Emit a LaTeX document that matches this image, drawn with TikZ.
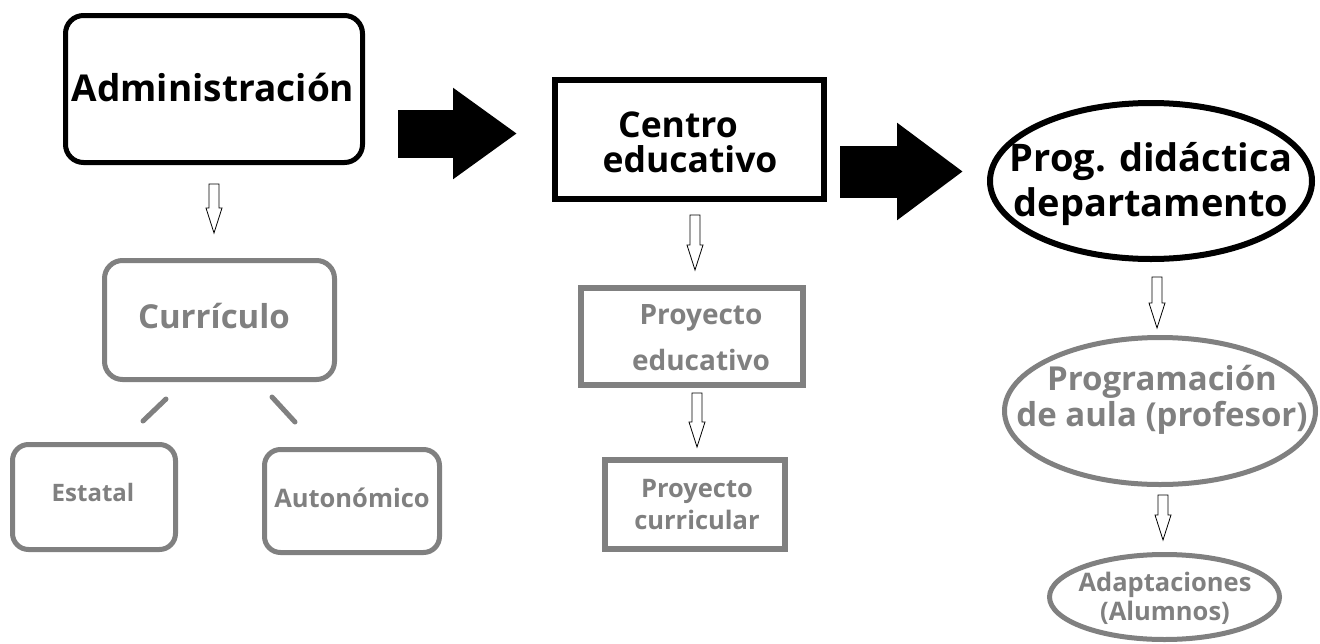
\documentclass[tikz,border=0pt]{standalone}
\usepackage{fontspec}
\setmainfont{Open Sans}
\usetikzlibrary{shapes.geometric,arrows.meta,calc}
\definecolor{gr}{HTML}{808080}
\tikzset{
  hollowdown/.pic={\draw[fill=white,line width=0.8pt,line join=miter]
     (-5,0) -- (5,0) -- (5,#1-25) -- (8,#1-25) -- (0,#1) -- (-8,#1-25) -- (-5,#1-25) -- cycle;},
  blkbox/.style={draw=black,text=black,align=center},
  grybox/.style={draw=gr,text=gr,align=center},
  blktxt/.style={text=black,align=center},
  grytxt/.style={text=gr,align=center},
}
\begin{document}
\begin{tikzpicture}[x=1pt,y=-1pt,every node/.style={inner sep=0pt,outer sep=0pt}]
\useasboundingbox[fill=white] (0,0) rectangle (1320,643);

% top row
\node[blkbox,rounded corners=18pt,line width=5pt,minimum width=297pt,minimum height=147pt] (admin) at (214,89) {};
\node[blktxt,font=\fontsize{37}{40}\selectfont\bfseries] (admint) at (213,88) {Administración};
\node[blkbox,line width=6pt,minimum width=269pt,minimum height=119pt] (centro) at (689.5,139.5) {};
\node[blktxt,font=\fontsize{35.5}{35}\selectfont\bfseries] (centrot) at (690,142) {Centro\hspace*{24pt}\\educativo};
\node[draw=black,ellipse,line width=6pt,minimum width=322pt,minimum height=156pt] (prog) at (1151,181) {};
\node[blktxt,font=\fontsize{38}{45}\selectfont\bfseries] (progt) at (1151,184) {Prog. didáctica\\departamento};

% black block arrows
\coordinate (ba1s) at (398,133.5);
\coordinate (ba1e) at (517,133.5);
\coordinate (ba2s) at (840,171.5);
\coordinate (ba2e) at (963,171.5);
\draw[line width=48pt,-{Triangle[width=87pt,length=64pt]}] (ba1s) -- (ba1e);
\draw[line width=52pt,-{Triangle[width=93pt,length=66pt]}] (ba2s) -- (ba2e);

% left column
\node[grybox,rounded corners=18pt,line width=5pt,minimum width=230pt,minimum height=119pt] (curr) at (219.5,320) {};
\node[grytxt,font=\fontsize{33}{36}\selectfont\bfseries] (currt) at (214,316) {Currículo};
\node[grybox,rounded corners=16pt,line width=5pt,minimum width=163pt,minimum height=105pt] (estatal) at (94,497) {};
\node[grytxt,font=\fontsize{24}{28}\selectfont\bfseries] (estatalt) at (93,492) {Estatal};
\node[grybox,rounded corners=16pt,line width=5pt,minimum width=175pt,minimum height=103pt] (auton) at (352,501) {};
\node[grytxt,font=\fontsize{25.5}{28}\selectfont\bfseries] (autont) at (352,498) {Autonómico};
\coordinate (l1a) at (166,399);
\coordinate (l1b) at (143,421);
\coordinate (l2a) at (272,397);
\coordinate (l2b) at (295,422);
\draw[gr,line width=5pt,line cap=round] (l1a) -- (l1b);
\draw[gr,line width=5pt,line cap=round] (l2a) -- (l2b);

% middle column
\node[grybox,line width=6pt,minimum width=222pt,minimum height=97pt] (pe) at (692,336.5) {};
\node[grytxt,font=\fontsize{28}{46}\selectfont\bfseries] (pet) at (701,338) {Proyecto\\educativo};
\node[grybox,line width=6pt,minimum width=180pt,minimum height=89pt] (pc) at (695,504.5) {};
\node[grytxt,font=\fontsize{25.5}{32}\selectfont\bfseries] (pct) at (697,505) {Proyecto\\curricular};

% right column
\node[draw=gr,ellipse,line width=5pt,minimum width=311pt,minimum height=147pt] (pa) at (1160,411) {};
\node[grytxt,font=\fontsize{33}{36}\selectfont\bfseries] (pat) at (1162,400) {Programación\\de aula (profesor)};
\node[draw=gr,ellipse,line width=5pt,minimum width=230pt,minimum height=85pt] (ad) at (1164.5,597) {};
\node[grytxt,font=\fontsize{25.5}{29}\selectfont\bfseries] (adt) at (1165,598) {Adaptaciones\\(Alumnos)};

% hollow down arrows
\coordinate (h1) at (214,184);
\coordinate (h2) at (695,215);
\coordinate (h3) at (697,393);
\coordinate (h4) at (1157,277);
\coordinate (h5) at (1163,495);
\pic at (h1) {hollowdown=49};
\pic at (h2) {hollowdown=55};
\pic at (h3) {hollowdown=54};
\pic at (h4) {hollowdown=51};
\pic at (h5) {hollowdown=45};
\end{tikzpicture}
\end{document}
